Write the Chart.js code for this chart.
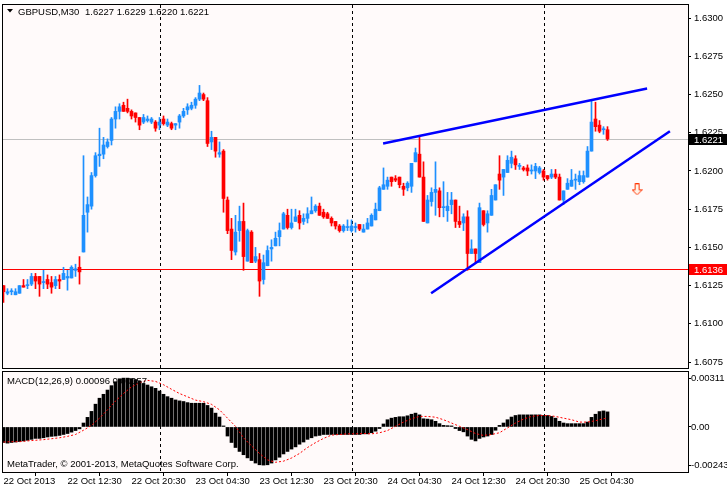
<!DOCTYPE html>
<html>
<head>
<meta charset="utf-8">
<script src="https://cdn.jsdelivr.net/npm/chart.js@4.4.0/dist/chart.umd.min.js"></script>
<style>
  html, body { margin: 0; padding: 0; background: #fff; }
  #wrap { position: relative; width: 727px; height: 490px; overflow: hidden; }
  canvas { position: absolute; left: 0; display: block; }
  #mainChart { top: 0; }
  #macdChart { top: 370px; }
</style>
</head>
<body>
<div id="wrap">
  <canvas id="mainChart" width="727" height="370"></canvas>
  <canvas id="macdChart" width="727" height="120"></canvas>
</div>
<script>
// GBPUSD M30, bars 0..151 (22 Oct 04:30 .. 25 Oct 08:00)
const opens = [
  1.6125,1.6120,1.6121,1.6119,1.6120,1.6125,1.6125,1.6126,1.6131,1.6131,
  1.6127,1.6129,1.6127,1.6125,1.6129,1.6129,1.6130,1.6130,1.6135,1.6137,
  1.6147,1.6173,1.6177,1.6197,1.6210,1.6211,1.6216,1.6220,1.6234,1.6239,
  1.6243,1.6241,1.6239,1.6238,1.6235,1.6232,1.6233,1.6232,1.6232,1.6230,
  1.6234,1.6230,1.6231,1.6230,1.6232,1.6236,1.6240,1.6241,1.6243,1.6247,
  1.6250,1.6246,1.6219,1.6222,1.6211,1.6213,1.6181,1.6162,1.6147,1.6161,
  1.6167,1.6141,1.6160,1.6141,1.6142,1.6129,1.6138,1.6149,1.6151,1.6157,
  1.6162,1.6171,1.6163,1.6167,1.6171,1.6167,1.6169,1.6172,1.6174,1.6177,
  1.6173,1.6172,1.6169,1.6167,1.6164,1.6161,1.6163,1.6161,1.6163,1.6165,
  1.6160,1.6162,1.6164,1.6168,1.6174,1.6188,1.6190,1.6196,1.6195,1.6196,
  1.6190,1.6189,1.6190,1.6206,1.6211,1.6196,1.6166,1.6180,1.6186,1.6187,
  1.6176,1.6174,1.6178,1.6181,1.6167,1.6166,1.6170,1.6146,1.6149,1.6140,
  1.6174,1.6166,1.6171,1.6181,1.6198,1.6196,1.6199,1.6205,1.6208,1.6203,
  1.6202,1.6202,1.6200,1.6200,1.6199,1.6200,1.6197,1.6196,1.6198,1.6196,
  1.6181,1.6188,1.6190,1.6194,1.6193,1.6193,1.6196,1.6213,1.6234,1.6230,
  1.6227,1.6227
];
const highs = [
  1.6125,1.6123,1.6123,1.6123,1.6125,1.6129,1.6129,1.6133,1.6133,1.6131,
  1.6135,1.6132,1.6131,1.6131,1.6132,1.6137,1.6135,1.6138,1.6139,1.6144,
  1.6210,1.6183,1.6199,1.6212,1.6228,1.6222,1.6221,1.6235,1.6242,1.6244,
  1.6245,1.6247,1.6240,1.6238,1.6235,1.6237,1.6236,1.6235,1.6233,1.6235,
  1.6236,1.6234,1.6232,1.6231,1.6237,1.6241,1.6244,1.6245,1.6248,1.6256,
  1.6251,1.6248,1.6226,1.6222,1.6219,1.6214,1.6183,1.6169,1.6171,1.6177,
  1.6179,1.6162,1.6161,1.6150,1.6146,1.6145,1.6151,1.6155,1.6160,1.6166,
  1.6173,1.6175,1.6175,1.6175,1.6174,1.6172,1.6176,1.6183,1.6178,1.6179,
  1.6175,1.6173,1.6170,1.6167,1.6165,1.6165,1.6168,1.6168,1.6166,1.6165,
  1.6165,1.6169,1.6172,1.6179,1.6190,1.6202,1.6196,1.6196,1.6197,1.6196,
  1.6192,1.6193,1.6205,1.6215,1.6222,1.6206,1.6184,1.6189,1.6206,1.6189,
  1.6193,1.6186,1.6186,1.6181,1.6177,1.6172,1.6174,1.6155,1.6149,1.6179,
  1.6174,1.6174,1.6188,1.6191,1.6210,1.6201,1.6210,1.6213,1.6210,1.6205,
  1.6203,1.6204,1.6204,1.6205,1.6203,1.6201,1.6197,1.6201,1.6201,1.6198,
  1.6187,1.6195,1.6201,1.6198,1.6200,1.6200,1.6216,1.6246,1.6245,1.6233,
  1.6229,1.6229
];
const lows = [
  1.6114,1.6119,1.6119,1.6119,1.6120,1.6124,1.6123,1.6125,1.6123,1.6118,
  1.6123,1.6123,1.6120,1.6123,1.6123,1.6129,1.6122,1.6130,1.6131,1.6126,
  1.6147,1.6160,1.6175,1.6196,1.6203,1.6208,1.6215,1.6217,1.6228,1.6234,
  1.6239,1.6238,1.6234,1.6232,1.6227,1.6231,1.6232,1.6231,1.6226,1.6227,
  1.6230,1.6229,1.6227,1.6227,1.6228,1.6235,1.6237,1.6240,1.6241,1.6246,
  1.6246,1.6216,1.6214,1.6209,1.6209,1.6173,1.6159,1.6142,1.6145,1.6154,
  1.6135,1.6141,1.6140,1.6140,1.6118,1.6126,1.6138,1.6141,1.6151,1.6151,
  1.6162,1.6162,1.6162,1.6167,1.6162,1.6165,1.6166,1.6172,1.6173,1.6171,
  1.6169,1.6169,1.6164,1.6162,1.6160,1.6160,1.6161,1.6160,1.6160,1.6161,
  1.6160,1.6162,1.6164,1.6168,1.6174,1.6188,1.6188,1.6190,1.6193,1.6189,
  1.6184,1.6187,1.6186,1.6206,1.6196,1.6167,1.6166,1.6177,1.6171,1.6170,
  1.6170,1.6167,1.6172,1.6163,1.6163,1.6161,1.6135,1.6146,1.6140,1.6140,
  1.6164,1.6160,1.6171,1.6181,1.6188,1.6184,1.6199,1.6202,1.6201,1.6201,
  1.6200,1.6197,1.6198,1.6195,1.6198,1.6194,1.6194,1.6195,1.6195,1.6181,
  1.6178,1.6188,1.6190,1.6188,1.6191,1.6192,1.6196,1.6213,1.6226,1.6225,
  1.6224,1.6220
];
const closes = [
  1.6121,1.6121,1.6121,1.6121,1.6125,1.6124,1.6125,1.6131,1.6128,1.6126,
  1.6127,1.6126,1.6124,1.6129,1.6128,1.6133,1.6131,1.6137,1.6136,1.6134,
  1.6171,1.6178,1.6197,1.6210,1.6211,1.6217,1.6219,1.6234,1.6239,1.6242,
  1.6239,1.6239,1.6236,1.6235,1.6230,1.6235,1.6234,1.6234,1.6228,1.6232,
  1.6231,1.6232,1.6228,1.6231,1.6236,1.6239,1.6242,1.6243,1.6247,1.6251,
  1.6247,1.6218,1.6222,1.6213,1.6212,1.6182,1.6161,1.6148,1.6160,1.6167,
  1.6144,1.6161,1.6140,1.6144,1.6128,1.6140,1.6148,1.6150,1.6156,1.6161,
  1.6172,1.6163,1.6166,1.6170,1.6166,1.6169,1.6172,1.6174,1.6177,1.6171,
  1.6170,1.6169,1.6166,1.6164,1.6161,1.6164,1.6163,1.6164,1.6163,1.6162,
  1.6162,1.6166,1.6171,1.6175,1.6189,1.6191,1.6194,1.6193,1.6194,1.6191,
  1.6188,1.6192,1.6205,1.6212,1.6196,1.6167,1.6181,1.6186,1.6188,1.6176,
  1.6176,1.6177,1.6181,1.6167,1.6165,1.6170,1.6146,1.6149,1.6146,1.6176,
  1.6165,1.6172,1.6184,1.6191,1.6194,1.6201,1.6207,1.6209,1.6204,1.6203,
  1.6201,1.6200,1.6200,1.6203,1.6202,1.6196,1.6195,1.6198,1.6196,1.6181,
  1.6187,1.6192,1.6194,1.6194,1.6197,1.6197,1.6213,1.6232,1.6229,1.6226,
  1.6227,1.6221
];
const macdHist = [
  -0.00099,-0.00103,-0.00099,-0.00096,-0.00093,-0.00089,-0.00085,-0.00079,-0.00073,-0.00073,
  -0.00069,-0.00064,-0.00060,-0.00058,-0.00054,-0.00048,-0.00042,-0.00033,-0.00023,-0.00012,
  0.00025,0.00061,0.00099,0.00145,0.00183,0.00208,0.00235,0.00263,0.00288,0.00307,
  0.00311,0.00311,0.00308,0.00302,0.00292,0.00277,0.00267,0.00256,0.00246,0.00229,
  0.00208,0.00193,0.00183,0.00172,0.00166,0.00162,0.00155,0.00151,0.00151,0.00151,
  0.00151,0.00137,0.00120,0.00088,0.00063,0.00004,-0.00058,-0.00099,-0.00131,-0.00156,
  -0.00177,-0.00197,-0.00214,-0.00230,-0.00241,-0.00243,-0.00241,-0.00230,-0.00210,-0.00193,
  -0.00172,-0.00156,-0.00141,-0.00127,-0.00110,-0.00096,-0.00079,-0.00069,-0.00058,-0.00054,
  -0.00048,-0.00048,-0.00048,-0.00048,-0.00048,-0.00048,-0.00048,-0.00048,-0.00048,-0.00048,
  -0.00044,-0.00044,-0.00037,-0.00027,-0.00010,0.00019,0.00046,0.00056,0.00061,0.00065,
  0.00065,0.00071,0.00081,0.00088,0.00077,0.00052,0.00050,0.00046,0.00036,0.00021,
  0.00010,0.00008,0.00001,-0.00010,-0.00023,-0.00031,-0.00058,-0.00079,-0.00089,-0.00073,
  -0.00064,-0.00058,-0.00048,-0.00021,0.00010,0.00025,0.00046,0.00063,0.00073,0.00077,
  0.00077,0.00077,0.00077,0.00077,0.00077,0.00073,0.00073,0.00067,0.00056,0.00036,
  0.00025,0.00021,0.00021,0.00021,0.00021,0.00021,0.00031,0.00061,0.00081,0.00098,
  0.00102,0.00096
];
// signal line read every second bar (null = not read)
const macdSignal = [
  -0.00096,null,-0.00094,null,-0.00094,null,-0.00089,null,-0.00085,null,
  -0.00081,null,-0.00075,null,-0.00069,null,-0.00060,null,-0.00048,null,
  -0.00021,null,0.00010,null,0.00056,null,0.00109,null,0.00165,null,
  0.00213,null,0.00255,null,0.00282,null,0.00297,null,0.00290,null,
  0.00269,null,0.00240,null,0.00213,null,0.00192,null,0.00171,null,
  0.00161,null,0.00144,null,0.00109,null,0.00056,null,0.00004,null,
  -0.00069,null,-0.00121,null,-0.00169,null,-0.00210,null,-0.00225,null,
  -0.00218,null,-0.00198,null,-0.00169,null,-0.00131,null,-0.00100,null,
  -0.00073,null,-0.00052,null,-0.00048,null,-0.00044,null,-0.00044,null,
  -0.00042,null,-0.00044,null,-0.00037,null,-0.00023,null,0.00004,null,
  0.00031,null,0.00052,null,0.00067,null,0.00067,null,0.00062,null,
  0.00046,null,0.00025,null,0.00004,null,-0.00017,null,-0.00042,null,
  -0.00054,null,-0.00048,null,-0.00037,null,-0.00006,null,0.00025,null,
  0.00050,null,0.00067,null,0.00073,null,0.00073,null,0.00067,null,
  0.00056,null,0.00046,null,0.00031,null,0.00031,null,0.00040,null,
  0.00052,0.00057
];

const tickIdx = [0, 16, 32, 48, 64, 80, 96, 112, 128, 144];
const tickLabels = ['22 Oct 2013', '22 Oct 12:30', '22 Oct 20:30', '23 Oct 04:30', '23 Oct 12:30',
  '23 Oct 20:30', '24 Oct 04:30', '24 Oct 12:30', '24 Oct 20:30', '25 Oct 04:30'];
const priceTicks = [1.6075, 1.6100, 1.6125, 1.6150, 1.6175, 1.6200, 1.6225, 1.6250, 1.6275, 1.6300];
const macdTicks = [-0.00243, 0, 0.00311];
const separators = [39, 87, 135];
const bidLevel = 1.6221;
const supportLevel = 1.6136;
const trendUpper = [[94.9, 1.6218], [160.9, 1.6254]];
const trendLower = [[106.9, 1.6120], [166.6, 1.6226]];
const arrowAt = [158.4, 1.6188];

const UP = '#1e90ff', DOWN = '#ff0000';
const FONT = '"Liberation Sans", Arial, sans-serif';
const X_MIN = -0.125, X_MAX = 171.125;

Chart.defaults.font.family = FONT;
Chart.defaults.font.size = 9.5;
Chart.defaults.color = '#000';

function candleColor(ctx) {
  const i = ctx.dataIndex;
  return closes[i] >= opens[i] ? UP : DOWN;
}

// hollow down arrow, drawn once and used as point style
const arrowImg = document.createElement('canvas');
arrowImg.width = 11; arrowImg.height = 12;
(function () {
  const a = arrowImg.getContext('2d');
  a.beginPath();
  a.moveTo(3.5, 0.5); a.lineTo(7.5, 0.5); a.lineTo(7.5, 6.5); a.lineTo(10.5, 6.5);
  a.lineTo(5.5, 11.5); a.lineTo(0.5, 6.5); a.lineTo(3.5, 6.5); a.closePath();
  a.fillStyle = '#fff4ea'; a.fill();
  a.strokeStyle = '#ff3300'; a.lineWidth = 1; a.stroke();
})();

// y axes: no extra room for half labels, fixed width
function fitRightAxis(s) {
  s.width = 39;
  s.paddingTop = 0;
  s.paddingBottom = 0;
}

function drawSeparators(chart) {
  const { ctx, chartArea: ca, scales } = chart;
  ctx.save();
  ctx.strokeStyle = '#000';
  ctx.lineWidth = 1;
  ctx.setLineDash([3, 3]);
  separators.forEach(s => {
    const x = Math.round(scales.x.getPixelForValue(s)) + 0.5;
    ctx.beginPath(); ctx.moveTo(x, ca.top); ctx.lineTo(x, ca.bottom); ctx.stroke();
  });
  ctx.restore();
}

function drawFrame(chart) {
  const { ctx, chartArea: ca } = chart;
  ctx.save();
  ctx.strokeStyle = '#000';
  ctx.lineWidth = 1;
  ctx.strokeRect(ca.left - 0.5, ca.top - 0.5, ca.right - ca.left + 1, ca.bottom - ca.top + 1);
  ctx.restore();
}

function fillArea(chart) {
  const { ctx, chartArea: ca } = chart;
  ctx.save();
  ctx.fillStyle = '#fffafa';
  ctx.fillRect(ca.left, ca.top, ca.right - ca.left, ca.bottom - ca.top);
  ctx.restore();
}

const mainDecor = {
  id: 'mainDecor',
  beforeDatasetsDraw(chart) {
    fillArea(chart);
    const { ctx, chartArea: ca, scales } = chart;
    drawSeparators(chart);
    ctx.save();
    [[bidLevel, '#c0c0c0'], [supportLevel, '#ff0000']].forEach(([v, c]) => {
      const y = Math.round(scales.y.getPixelForValue(v));
      ctx.fillStyle = c;
      ctx.fillRect(ca.left, y, ca.right - ca.left, 1);
    });
    ctx.restore();
  },
  afterDraw(chart) {
    const { ctx, chartArea: ca, scales } = chart;
    drawFrame(chart);
    ctx.save();
    // value boxes on the price scale
    [[bidLevel, '#000000'], [supportLevel, '#ff0000']].forEach(([v, c]) => {
      const y = Math.round(scales.y.getPixelForValue(v));
      ctx.fillStyle = c;
      ctx.fillRect(ca.right + 1, y - 5, 40, 11);
      ctx.fillStyle = '#fff';
      ctx.font = '9.5px ' + FONT;
      ctx.textBaseline = 'middle';
      ctx.fillText(v.toFixed(4), ca.right + 6, y + 1);
    });
    // header
    ctx.fillStyle = '#000';
    ctx.beginPath(); ctx.moveTo(7, 9); ctx.lineTo(13, 9); ctx.lineTo(10, 12.5); ctx.closePath(); ctx.fill();
    ctx.font = '9.5px ' + FONT;
    ctx.textBaseline = 'alphabetic';
    ctx.fillText('GBPUSD,M30', 18, 14.5);
    ctx.fillText('1.6227 1.6229 1.6220 1.6221', 85, 14.5);
    ctx.restore();
  }
};

const macdDecor = {
  id: 'macdDecor',
  beforeDatasetsDraw(chart) {
    fillArea(chart);
    drawSeparators(chart);
  },
  afterDraw(chart) {
    const { ctx, chartArea: ca } = chart;
    drawFrame(chart);
    ctx.save();
    ctx.fillStyle = '#000';
    ctx.font = '9.5px ' + FONT;
    ctx.fillText('MACD(12,26,9) 0.00096 0.00057', 7, ca.top + 12);
    ctx.fillText('MetaTrader, \u00a9 2001-2013, MetaQuotes Software Corp.', 7, ca.bottom - 5);
    ctx.restore();
  }
};

const bodies = opens.map((o, i) => ({ x: i, y: [o, closes[i]] }));
const wicks = lows.map((l, i) => ({ x: i, y: [l, highs[i]] }));

new Chart(document.getElementById('mainChart'), {
  type: 'bar',
  data: {
    datasets: [
      { type: 'line', data: trendUpper.map(p => ({ x: p[0], y: p[1] })), borderColor: '#0000ff',
        borderWidth: 2.5, pointRadius: 0, order: 0 },
      { type: 'line', data: trendLower.map(p => ({ x: p[0], y: p[1] })), borderColor: '#0000ff',
        borderWidth: 2.5, pointRadius: 0, order: 0 },
      { type: 'line', data: [{ x: arrowAt[0], y: arrowAt[1] }], showLine: false,
        pointStyle: arrowImg, pointRadius: 6, order: 1 },
      { data: bodies, backgroundColor: candleColor, barThickness: 3, grouped: false,
        minBarLength: 1, borderWidth: 0, order: 2 },
      { data: wicks, backgroundColor: candleColor, barThickness: 1, grouped: false,
        minBarLength: 1, borderWidth: 0, order: 3 }
    ]
  },
  options: {
    responsive: false,
    devicePixelRatio: 1,
    animation: false,
    layout: { autoPadding: false, padding: { left: 3, top: 5, right: 0, bottom: 2 } },
    plugins: { legend: { display: false }, tooltip: { enabled: false } },
    scales: {
      x: { type: 'linear', min: X_MIN, max: X_MAX, offset: false, display: false },
      y: {
        type: 'linear', position: 'right', min: 1.60711, max: 1.63086,
        afterFit: fitRightAxis,
        afterBuildTicks(s) { s.ticks = priceTicks.map(v => ({ value: v })); },
        ticks: { callback: v => v.toFixed(4), padding: 3, color: '#000' },
        grid: { drawOnChartArea: false, tickLength: 3, color: '#000' },
        border: { display: false }
      }
    }
  },
  plugins: [mainDecor]
});

new Chart(document.getElementById('macdChart'), {
  type: 'bar',
  data: {
    datasets: [
      { type: 'line', data: macdSignal.map((v, i) => ({ x: i, y: v })).filter(p => p.y !== null),
        borderColor: '#ff0000', borderWidth: 1, borderDash: [2, 2], pointRadius: 0, order: 0 },
      { data: macdHist.map((v, i) => ({ x: i, y: v })), backgroundColor: '#000', barThickness: 3,
        minBarLength: 1, borderWidth: 0, order: 1 }
    ]
  },
  options: {
    responsive: false,
    devicePixelRatio: 1,
    animation: false,
    layout: { autoPadding: false, padding: { left: 3, top: 2, right: 0, bottom: 0 } },
    plugins: { legend: { display: false }, tooltip: { enabled: false } },
    scales: {
      x: {
        type: 'linear', min: X_MIN, max: X_MAX, offset: false,
        afterFit(s) { s.height = 18; s.paddingLeft = 0; s.paddingRight = 0; },
        afterBuildTicks(s) { s.ticks = tickIdx.map(v => ({ value: v })); },
        ticks: { callback: v => tickLabels[tickIdx.indexOf(v)], align: 'start', padding: 0,
          maxRotation: 0, autoSkip: false, color: '#000' },
        grid: { drawOnChartArea: false, tickLength: 4, color: '#000' },
        border: { display: false }
      },
      y: {
        type: 'linear', position: 'right', min: -0.00287, max: 0.00350,
        afterFit: fitRightAxis,
        afterBuildTicks(s) { s.ticks = macdTicks.map(v => ({ value: v })); },
        ticks: { callback: v => (v === 0 ? '0.00' : v.toFixed(5)), padding: 0, color: '#000' },
        grid: { drawOnChartArea: false, tickLength: 3, color: '#000' },
        border: { display: false }
      }
    }
  },
  plugins: [macdDecor]
});
</script>
</body>
</html>
